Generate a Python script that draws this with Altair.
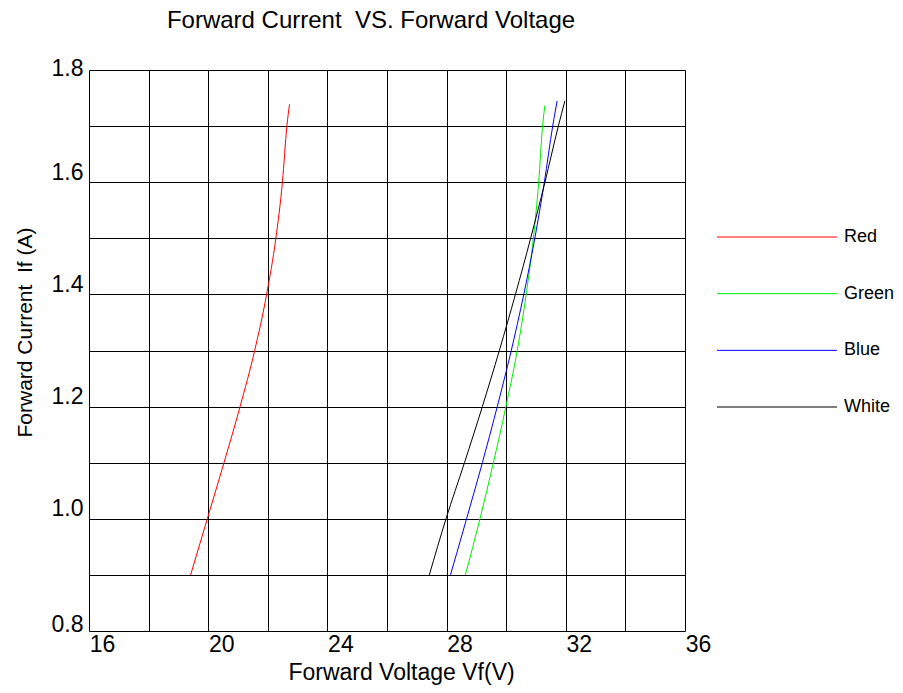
import altair as alt
import pandas as pd

FONT = "Liberation Sans"

series = ["Red", "Green", "Blue", "White"]
colors = ["#ff0000", "#00ee00", "#0000ff", "#000000"]

red_vf = [19.41, 19.97, 20.53, 21.07, 21.56, 21.96, 22.27, 22.49, 22.64, 22.73]
red_if = [0.90, 1.00, 1.10, 1.20, 1.30, 1.40, 1.50, 1.60, 1.70, 1.739]
green_vf = [28.63, 29.12, 29.57, 29.99, 30.37, 30.67, 30.91, 31.09, 31.22, 31.30]
green_if = [0.90, 1.00, 1.10, 1.20, 1.30, 1.40, 1.50, 1.60, 1.70, 1.737]
blue_vf = [28.13, 28.67, 29.20, 29.70, 30.17, 30.59, 30.96, 31.28, 31.56, 31.71]
blue_if = [0.90, 1.00, 1.10, 1.20, 1.30, 1.40, 1.50, 1.60, 1.70, 1.745]
white_vf = [27.42, 27.98, 28.60, 29.20, 29.77, 30.31, 30.82, 31.30, 31.75, 31.97]
white_if = [0.90, 1.00, 1.10, 1.20, 1.30, 1.40, 1.50, 1.60, 1.70, 1.745]

x_ticks = [16, 18, 20, 22, 24, 26, 28, 30, 32, 34, 36]
y_ticks = [0.8, 0.9, 1.0, 1.1, 1.2, 1.3, 1.4, 1.5, 1.6, 1.7, 1.8]

rows = []
for name, vf, cur in [("Red", red_vf, red_if), ("Green", green_vf, green_if),
                      ("Blue", blue_vf, blue_if), ("White", white_vf, white_if)]:
    for v, i in zip(vf, cur):
        rows.append({"series": name, "Vf": v, "If": i})
df = pd.DataFrame(rows)
leg_df = pd.DataFrame({"series": series})

color_scale = alt.Scale(domain=series, range=colors)

lines = alt.Chart(df).mark_line(interpolate="monotone", strokeWidth=1).encode(
    x=alt.X("Vf:Q",
            scale=alt.Scale(domain=[16, 36], nice=False, zero=False),
            axis=alt.Axis(values=x_ticks,
                          labelExpr="datum.value % 4 == 0 ? datum.label : ''",
                          ticks=False, domain=False, grid=True,
                          gridColor="#000000", gridOpacity=1, gridWidth=1,
                          labelFont=FONT, labelFontSize=23, labelColor="#000000",
                          labelOffset=13, labelPadding=2, labelFlush=False,
                          labelOverlap=False,
                          title="Forward Voltage Vf(V)", titleFont=FONT,
                          titleFontSize=23, titleFontWeight="normal",
                          titleColor="#000000", titleX=312, titleY=41,
                          titleBaseline="middle", titleAlign="center")),
    y=alt.Y("If:Q",
            scale=alt.Scale(domain=[0.8, 1.8], nice=False, zero=False),
            axis=alt.Axis(values=y_ticks,
                          labelExpr="round(datum.value * 10) % 2 == 0 ? format(datum.value, '.1f') : ''",
                          ticks=False, domain=False, grid=True,
                          gridColor="#000000", gridOpacity=1, gridWidth=1,
                          labelFont=FONT, labelFontSize=23, labelColor="#000000",
                          labelOffset={"condition": [
                              {"test": "datum.value > 1.75", "value": -2},
                              {"test": "datum.value < 0.85", "value": -7}],
                              "value": -10},
                          labelPadding=6, labelFlush=False, labelOverlap=False,
                          title="Forward Current \u00a0If (A)", titleFont=FONT,
                          titleFontSize=21, titleFontWeight="normal",
                          titleColor="#000000", titleX=-64, titleY=262,
                          titleBaseline="middle", titleAlign="center",
                          titleAngle=270)),
    color=alt.Color("series:N", scale=color_scale, legend=None),
    detail="series:N",
    order=alt.Order("If:Q"),
)

leg_y = alt.Y("series:N", sort=series,
              scale=alt.Scale(type="point", range=[167, 337], padding=0),
              axis=None)

leg_rules = alt.Chart(leg_df).mark_rule(strokeWidth=1).encode(
    x=alt.value(628), x2=alt.value(748), y=leg_y,
    color=alt.Color("series:N", scale=color_scale, legend=None),
)
leg_text = alt.Chart(leg_df).mark_text(align="left", baseline="middle",
                                       fontSize=18, font=FONT,
                                       color="#000000").encode(
    x=alt.value(755), y=leg_y, text="series:N",
)

chart = alt.layer(lines, leg_rules, leg_text).resolve_scale(
    y="independent"
).properties(
    width=596, height=561,
    title=alt.TitleParams("Forward Current \u00a0VS. Forward Voltage",
                          font=FONT, fontSize=24, fontWeight="normal",
                          color="#000000", anchor="middle", dx=-16,
                          frame="group", baseline="alphabetic", offset=5),
    autosize=alt.AutoSizeParams(type="none"),
    padding={"left": 81, "top": 62, "right": 210, "bottom": 54},
).configure_view(stroke="#000000", strokeWidth=1).configure(background="white")

chart.save("out.html", embed_options={"renderer": "svg", "actions": False})
